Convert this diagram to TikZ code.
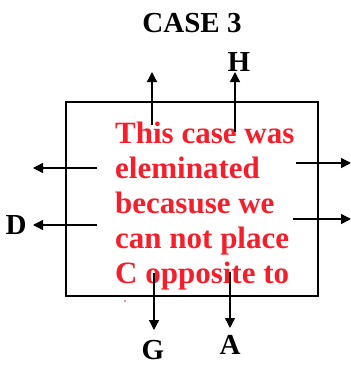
\documentclass[tikz,border=0pt]{standalone}
\usepackage{fontspec}
\setmainfont{Liberation Serif}
\usetikzlibrary{arrows.meta}
\definecolor{msgred}{RGB}{245,30,42}
\begin{document}
\begin{tikzpicture}[x=1pt,y=-1pt,
  lbl/.style={font=\fontsize{29}{32}\selectfont\bfseries, inner sep=0pt},
  arr/.style={line width=1.4pt, -{Triangle[length=10pt,width=10pt]}},
  boxline/.style={line width=1.2pt}]
\useasboundingbox (0,0) rectangle (351,365);
\fill[white] (0,0) rectangle (351,365);
% box
\draw[boxline] (66,102) rectangle (318,296);
% message
\node[font=\fontsize{31}{35}\selectfont\bfseries, text=msgred, align=left, anchor=base west, inner sep=0pt] (msg) at (115,283)
  {This case was\\eleminated\\becasuse we\\can not place\\C opposite to};
\fill[msgred] (125,301) circle (0.9);
% labels
\node[lbl, anchor=base] (title) at (192,32) {CASE 3};
\node[lbl, anchor=base] (H) at (239,71) {H};
\node[lbl, anchor=base] (D) at (16,234) {D};
\node[lbl, anchor=base] (G) at (153,359) {G};
\node[lbl, anchor=base] (A) at (230,354) {A};
% arrow endpoints
\coordinate (u1s) at (152,125); \coordinate (u1e) at (152,72);
\coordinate (u2s) at (235,132); \coordinate (u2e) at (235,72);
\coordinate (l1s) at (97,168); \coordinate (l1e) at (33,168);
\coordinate (l2s) at (97,225); \coordinate (l2e) at (33,225);
\coordinate (r1s) at (296,163); \coordinate (r1e) at (351,163);
\coordinate (r2s) at (293,219); \coordinate (r2e) at (351,219);
\coordinate (d1s) at (154,273); \coordinate (d1e) at (154,330);
\coordinate (d2s) at (230,272); \coordinate (d2e) at (230,328);
\draw[arr] (u1s) -- (u1e);
\draw[arr] (u2s) -- (u2e);
\draw[arr] (l1s) -- (l1e);
\draw[arr] (l2s) -- (l2e);
\draw[arr] (r1s) -- (r1e);
\draw[arr] (r2s) -- (r2e);
\draw[arr] (d1s) -- (d1e);
\draw[arr] (d2s) -- (d2e);
\end{tikzpicture}
\end{document}
